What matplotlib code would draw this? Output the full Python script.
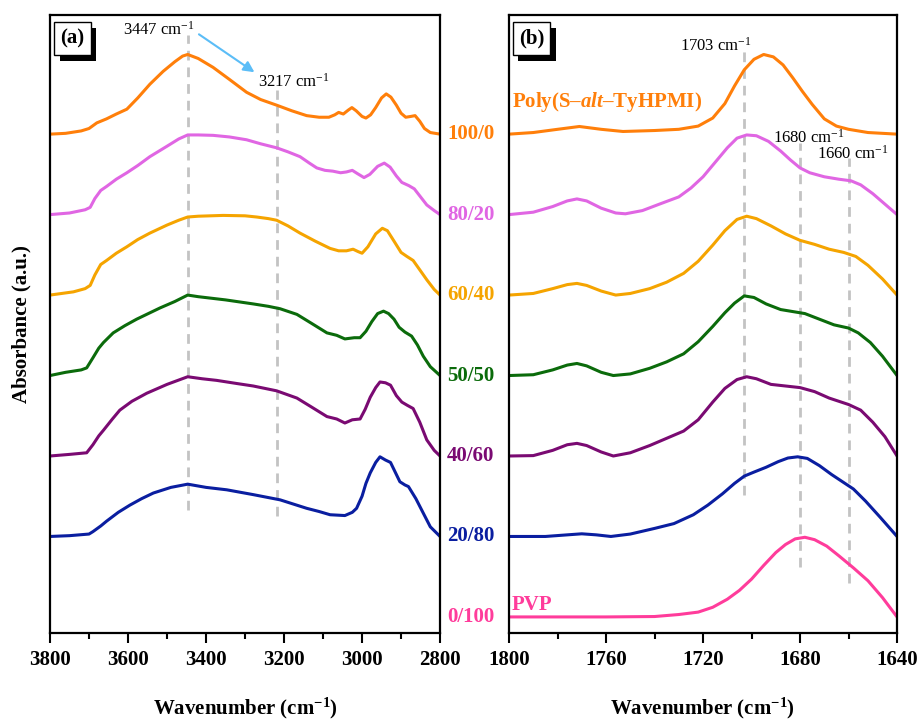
import matplotlib
matplotlib.use("Agg")
import matplotlib.pyplot as plt
import matplotlib.patheffects as pe
from matplotlib.ticker import MultipleLocator

plt.rcParams['font.family'] = ['Liberation Serif', 'DejaVu Serif']
plt.rcParams['mathtext.fontset'] = 'custom'
plt.rcParams['mathtext.rm'] = 'Liberation Serif'
plt.rcParams['mathtext.bf'] = 'Liberation Serif:bold'
plt.rcParams['mathtext.it'] = 'Liberation Serif:italic:bold'

# blend ratios (top to bottom) and their vertical offsets
ratio_labels = ['100/0', '80/20', '60/40', '50/50', '40/60', '20/80', '0/100']
offsets = [6, 5, 4, 3, 2, 1, 0]
colors = ['#FF7F0A', '#E066E3', '#F5A400', '#0B6B0B', '#7A0A72', '#0A1EA0', '#FF3C9B']

# ---- panel (a): O-H / C-H stretching region ----
wn_a_100 = [3800, 3760, 3720, 3700, 3680, 3655, 3630, 3603, 3575, 3544, 3510, 3480, 3460, 3447,
            3420, 3382, 3340, 3296, 3260, 3219, 3180, 3142, 3110, 3085, 3070, 3060, 3048, 3035,
            3026, 3015, 3000, 2990, 2978, 2965, 2950, 2938, 2926, 2912, 2900, 2888, 2875, 2864,
            2852, 2840, 2825, 2800]
ab_a_100 = [0.0, 0.01, 0.04, 0.07, 0.14, 0.19, 0.25, 0.31, 0.45, 0.62, 0.78, 0.90, 0.97, 0.99,
            0.94, 0.83, 0.68, 0.52, 0.43, 0.36, 0.29, 0.23, 0.21, 0.21, 0.24, 0.27, 0.25, 0.30,
            0.33, 0.29, 0.22, 0.20, 0.24, 0.33, 0.45, 0.50, 0.46, 0.36, 0.26, 0.21, 0.22, 0.23,
            0.16, 0.07, 0.02, 0.0]

wn_a_80 = [3800, 3750, 3710, 3697, 3685, 3670, 3655, 3630, 3603, 3575, 3544, 3500, 3470, 3447,
           3420, 3382, 3340, 3296, 3260, 3219, 3190, 3159, 3135, 3116, 3095, 3075, 3055, 3040,
           3025, 3012, 2995, 2980, 2960, 2943, 2928, 2912, 2898, 2880, 2866, 2850, 2834, 2815,
           2800]
ab_a_80 = [0.0, 0.02, 0.06, 0.09, 0.20, 0.30, 0.35, 0.44, 0.52, 0.61, 0.72, 0.85, 0.94, 0.99,
           0.99, 0.985, 0.965, 0.93, 0.88, 0.83, 0.78, 0.72, 0.64, 0.58, 0.55, 0.54, 0.52, 0.53,
           0.55, 0.51, 0.46, 0.50, 0.60, 0.64, 0.59, 0.48, 0.40, 0.36, 0.32, 0.22, 0.12, 0.05,
           0.0]

wn_a_60 = [3800, 3770, 3740, 3710, 3697, 3685, 3670, 3655, 3630, 3603, 3575, 3544, 3500, 3470,
           3447, 3420, 3356, 3300, 3270, 3240, 3219, 3190, 3159, 3120, 3082, 3060, 3040, 3023,
           3010, 3000, 2985, 2965, 2948, 2935, 2918, 2900, 2885, 2869, 2850, 2834, 2815, 2800]
ab_a_60 = [0.0, 0.02, 0.04, 0.08, 0.12, 0.25, 0.38, 0.43, 0.52, 0.60, 0.69, 0.77, 0.87, 0.93,
           0.97, 0.98, 0.99, 0.985, 0.97, 0.95, 0.93, 0.86, 0.77, 0.67, 0.58, 0.55, 0.55, 0.57,
           0.54, 0.52, 0.60, 0.76, 0.83, 0.80, 0.67, 0.53, 0.48, 0.43, 0.30, 0.19, 0.07, 0.0]

wn_a_50 = [3800, 3760, 3720, 3706, 3690, 3675, 3663, 3638, 3608, 3578, 3548, 3518, 3480, 3447,
           3420, 3350, 3279, 3240, 3210, 3167, 3130, 3090, 3065, 3044, 3020, 3005, 2990, 2975,
           2960, 2945, 2932, 2918, 2905, 2890, 2873, 2858, 2843, 2825, 2800]
ab_a_50 = [0.0, 0.04, 0.07, 0.095, 0.22, 0.34, 0.41, 0.53, 0.62, 0.70, 0.77, 0.84, 0.92, 1.0,
           0.98, 0.94, 0.89, 0.86, 0.83, 0.76, 0.65, 0.53, 0.50, 0.455, 0.47, 0.47, 0.55, 0.67,
           0.77, 0.80, 0.77, 0.70, 0.60, 0.54, 0.49, 0.38, 0.24, 0.11, 0.0]

wn_a_40 = [3800, 3750, 3706, 3690, 3675, 3663, 3640, 3621, 3590, 3552, 3500, 3447, 3410, 3373,
           3320, 3279, 3219, 3167, 3130, 3090, 3065, 3044, 3025, 3005, 2992, 2979, 2965, 2954,
           2940, 2927, 2912, 2898, 2884, 2869, 2852, 2834, 2815, 2800]
ab_a_40 = [0.0, 0.02, 0.04, 0.14, 0.25, 0.32, 0.46, 0.57, 0.68, 0.78, 0.89, 0.985, 0.96, 0.94,
           0.90, 0.87, 0.81, 0.72, 0.61, 0.49, 0.46, 0.41, 0.45, 0.46, 0.58, 0.73, 0.85, 0.92,
           0.91, 0.88, 0.75, 0.67, 0.63, 0.59, 0.42, 0.20, 0.07, 0.0]

wn_a_20 = [3800, 3750, 3700, 3690, 3670, 3655, 3625, 3595, 3565, 3535, 3490, 3447, 3400, 3347,
           3279, 3210, 3142, 3110, 3082, 3044, 3025, 3014, 3000, 2990, 2979, 2965, 2954, 2940,
           2927, 2915, 2903, 2890, 2881, 2862, 2843, 2825, 2800]
ab_a_20 = [0.0, 0.01, 0.03, 0.06, 0.13, 0.19, 0.30, 0.39, 0.47, 0.54, 0.61, 0.65, 0.61, 0.58,
           0.52, 0.455, 0.35, 0.31, 0.27, 0.26, 0.30, 0.35, 0.50, 0.66, 0.79, 0.92, 0.99, 0.95,
           0.92, 0.80, 0.68, 0.64, 0.62, 0.47, 0.29, 0.12, 0.0]

# ---- panel (b): C=O stretching region ----
wn_b_100 = [1800, 1790, 1780, 1771, 1762, 1753, 1740, 1730, 1722, 1716, 1711, 1707, 1703, 1699,
            1695, 1691, 1687, 1683, 1679, 1675, 1670, 1665, 1660, 1652, 1640]
ab_b_100 = [0.0, 0.02, 0.06, 0.095, 0.06, 0.033, 0.045, 0.06, 0.10, 0.20, 0.38, 0.60, 0.80,
            0.93, 0.99, 0.96, 0.86, 0.70, 0.53, 0.37, 0.19, 0.10, 0.06, 0.02, 0.0]

wn_b_80 = [1800, 1790, 1782, 1776, 1772, 1768, 1762, 1756, 1752, 1745, 1738, 1730, 1725, 1720,
           1715, 1710, 1706, 1702, 1698, 1693, 1688, 1684, 1680, 1676, 1670, 1664, 1659, 1655,
           1650, 1645, 1640]
ab_b_80 = [0.0, 0.03, 0.10, 0.17, 0.195, 0.17, 0.08, 0.02, 0.01, 0.05, 0.13, 0.22, 0.33, 0.47,
           0.65, 0.83, 0.95, 0.99, 0.98, 0.91, 0.79, 0.68, 0.58, 0.52, 0.47, 0.44, 0.42, 0.37,
           0.26, 0.13, 0.0]

wn_b_60 = [1800, 1790, 1782, 1776, 1772, 1768, 1762, 1756, 1750, 1742, 1735, 1728, 1722, 1716,
           1711, 1706, 1702, 1698, 1692, 1686, 1680, 1674, 1668, 1662, 1657, 1652, 1646, 1640]
ab_b_60 = [0.0, 0.02, 0.08, 0.13, 0.145, 0.12, 0.05, 0.0, 0.02, 0.08, 0.16, 0.27, 0.42, 0.62,
           0.80, 0.94, 0.98, 0.95, 0.86, 0.76, 0.68, 0.63, 0.57, 0.53, 0.48, 0.37, 0.20, 0.0]

wn_b_50 = [1800, 1790, 1782, 1776, 1772, 1768, 1762, 1757, 1750, 1742, 1735, 1728, 1722, 1716,
           1711, 1707, 1703, 1699, 1694, 1688, 1682, 1678, 1672, 1666, 1660, 1656, 1651, 1646,
           1640]
ab_b_50 = [0.0, 0.01, 0.07, 0.13, 0.15, 0.12, 0.04, 0.0, 0.02, 0.09, 0.17, 0.27, 0.42, 0.61,
           0.78, 0.90, 0.99, 0.97, 0.89, 0.82, 0.79, 0.77, 0.70, 0.63, 0.59, 0.53, 0.41, 0.24,
           0.0]

wn_b_40 = [1800, 1790, 1782, 1776, 1772, 1768, 1762, 1757, 1750, 1742, 1735, 1728, 1722, 1716,
           1711, 1706, 1702, 1698, 1692, 1686, 1680, 1674, 1668, 1660, 1655, 1650, 1645, 1640]
ab_b_40 = [0.0, 0.005, 0.07, 0.14, 0.157, 0.13, 0.05, 0.0, 0.04, 0.13, 0.22, 0.31, 0.45, 0.67,
           0.84, 0.95, 0.985, 0.96, 0.89, 0.87, 0.85, 0.80, 0.72, 0.64, 0.57, 0.42, 0.24, 0.0]

wn_b_20 = [1800, 1785, 1776, 1770, 1764, 1758, 1750, 1740, 1732, 1724, 1718, 1712, 1707, 1703,
           1699, 1694, 1689, 1685, 1681, 1677, 1672, 1667, 1662, 1658, 1653, 1647, 1640]
ab_b_20 = [0.0, 0.0, 0.02, 0.033, 0.02, 0.0, 0.03, 0.10, 0.16, 0.27, 0.39, 0.53, 0.66, 0.75,
           0.80, 0.86, 0.93, 0.975, 0.99, 0.97, 0.88, 0.77, 0.67, 0.59, 0.44, 0.24, 0.0]

wn_b_0 = [1800, 1760, 1740, 1730, 1722, 1716, 1710, 1705, 1700, 1695, 1690, 1686, 1682, 1678,
          1674, 1669, 1664, 1658, 1652, 1646, 1640]
ab_b_0 = [0.0, 0.0, 0.005, 0.03, 0.06, 0.12, 0.22, 0.33, 0.47, 0.64, 0.80, 0.90, 0.97, 0.99,
          0.96, 0.88, 0.76, 0.61, 0.45, 0.24, 0.0]

series_a = [(wn_a_100, ab_a_100), (wn_a_80, ab_a_80), (wn_a_60, ab_a_60),
            (wn_a_50, ab_a_50), (wn_a_40, ab_a_40), (wn_a_20, ab_a_20)]
series_b = [(wn_b_100, ab_b_100), (wn_b_80, ab_b_80), (wn_b_60, ab_b_60),
            (wn_b_50, ab_b_50), (wn_b_40, ab_b_40), (wn_b_20, ab_b_20), (wn_b_0, ab_b_0)]

# marker lines: (wavenumber, y from, y to) in offset units
guides_a = [(3447, 1.33, 7.23), (3217, 1.25, 6.55)]
guides_b = [(1703, 1.52, 7.07), (1680, 0.62, 5.89), (1660, 0.42, 5.70)]

fig = plt.figure(figsize=(9.21, 7.2), dpi=100)
ax_a = fig.add_axes([0.0543, 0.1208, 0.4235, 0.8583])
ax_b = fig.add_axes([0.5527, 0.1208, 0.4213, 0.8583])

for ax in (ax_a, ax_b):
    ax.set_ylim(-0.2, 7.48)
    ax.set_yticks([])
    for s in ax.spines.values():
        s.set_linewidth(1.6)
    ax.tick_params(axis='x', which='major', direction='out', length=7.5, width=1.5,
                   labelsize=15, pad=5)
    ax.tick_params(axis='x', which='minor', direction='out', length=4, width=1.5)

dash = (0, (3.5, 2.5))
for (x, y0, y1) in guides_a:
    ax_a.plot([x, x], [y0, y1], color='#C3C3C3', lw=2, ls=dash, zorder=1)
for (x, y0, y1) in guides_b:
    ax_b.plot([x, x], [y0, y1], color='#C3C3C3', lw=2, ls=dash, zorder=1)

for (wn, ab), off, c in zip(series_a, offsets, colors):
    ax_a.plot(wn, [v + off for v in ab], color=c, lw=2.2, zorder=2, solid_joinstyle='round')
for (wn, ab), off, c in zip(series_b, offsets, colors):
    ax_b.plot(wn, [v + off for v in ab], color=c, lw=2.2, zorder=2, solid_joinstyle='round')

ax_a.set_xlim(3800, 2800)
ax_a.xaxis.set_major_locator(MultipleLocator(200))
ax_a.xaxis.set_minor_locator(MultipleLocator(100))
ax_b.set_xlim(1800, 1640)
ax_b.xaxis.set_major_locator(MultipleLocator(40))
ax_b.xaxis.set_minor_locator(MultipleLocator(20))
for ax in (ax_a, ax_b):
    for lab in ax.get_xticklabels():
        lab.set_fontweight('bold')

# ratio labels between the panels
for lab, off, c in zip(ratio_labels, offsets, colors):
    ax_a.text(1.018, off, lab, transform=ax_a.get_yaxis_transform(), color=c,
              fontsize=15, fontweight='bold', va='center', ha='left')

# peak annotations
ax_a.text(3613, 7.30, '3447 cm$^{-1}$', fontsize=12, va='center', ha='left')
ax_a.text(3267, 6.65, '3217 cm$^{-1}$', fontsize=12, va='center', ha='left')
ax_a.annotate('', xy=(3270, 6.75), xytext=(3424, 7.26),
              arrowprops=dict(arrowstyle='-|>', color='#5BBDF7', lw=1.5, mutation_scale=16))
ax_b.text(1729.5, 7.10, '1703 cm$^{-1}$', fontsize=12, va='center', ha='left')
ax_b.text(1691.1, 5.95, '1680 cm$^{-1}$', fontsize=12, va='center', ha='left')
ax_b.text(1673, 5.76, '1660 cm$^{-1}$', fontsize=12, va='center', ha='left')

ax_b.text(1798.8, 6.40, r'Poly(S–$\mathit{alt}$–TyHPMI)', color=colors[0], fontsize=15,
          fontweight='bold', va='center', ha='left')
ax_b.text(1798.8, 0.15, 'PVP', color=colors[6], fontsize=15, fontweight='bold',
          va='center', ha='left')

# panel tags with drop shadow
for ax, tag in ((ax_a, '(a)'), (ax_b, '(b)')):
    t = ax.text(0.058, 0.962, tag, transform=ax.transAxes, fontsize=15, fontweight='bold',
                va='center', ha='center',
                bbox=dict(boxstyle='square,pad=0.3', fc='white', ec='black', lw=1.0))
    t.get_bbox_patch().set_path_effects(
        [pe.withSimplePatchShadow(offset=(3.8, -4.3), shadow_rgbFace='black', alpha=1.0)])

fig.text(0.0228, 0.55, 'Absorbance (a.u.)', rotation=90, fontsize=15, fontweight='bold',
         va='center', ha='center')
fig.text(0.266, 0.0167, r'Wavenumber (cm$^{\mathbf{-1}}$)', fontsize=15, fontweight='bold',
         va='center', ha='center')
fig.text(0.763, 0.0167, r'Wavenumber (cm$^{\mathbf{-1}}$)', fontsize=15, fontweight='bold',
         va='center', ha='center')

fig.savefig('out.png', dpi=100)
